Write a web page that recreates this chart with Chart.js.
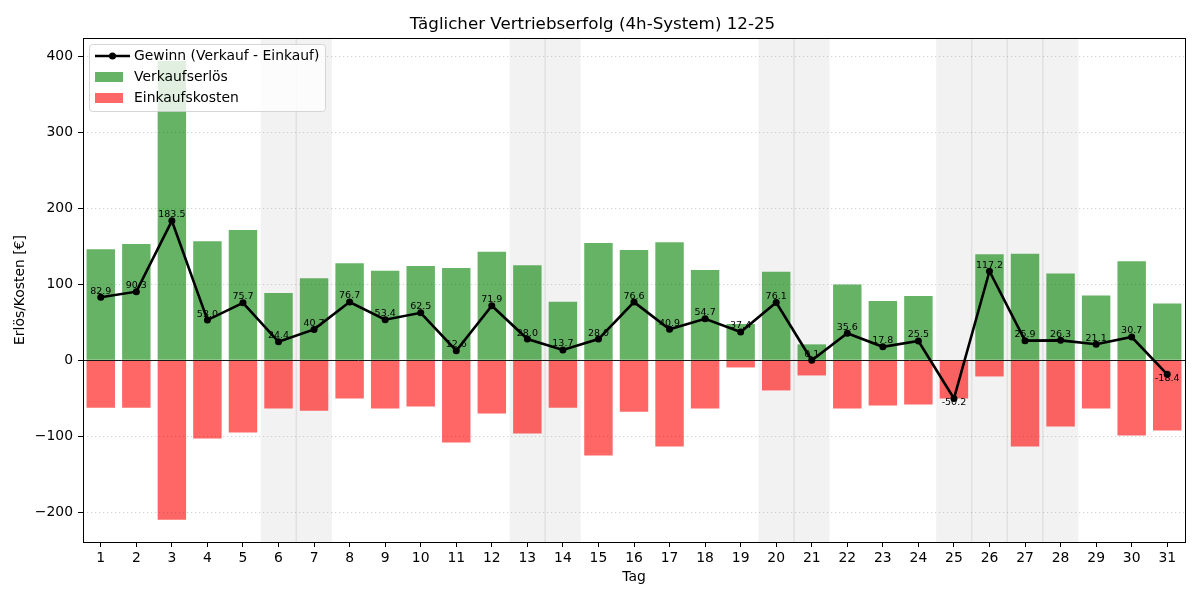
<!DOCTYPE html>
<html><head><meta charset="utf-8">
<script src="https://cdn.jsdelivr.net/npm/chart.js@4.4.1/dist/chart.umd.min.js"></script>
<style>html,body{margin:0;padding:0;background:#fff;} #wrap{width:1200px;height:600px;}</style>
</head><body><div id="wrap"><canvas id="c" width="1200" height="600"></canvas></div>
<script>
const days = ['1','2','3','4','5','6','7','8','9','10','11','12','13','14','15','16','17','18','19','20','21','22','23','24','25','26','27','28','29','30','31'];
const revenue = [146.3,153.2,393.8,156.8,171.6,88.7,108.1,127.8,117.7,124.1,121.6,142.8,125.2,77.1,154.2,145.3,155.2,119.0,47.8,116.7,21.0,99.9,78.2,84.6,0,139.4,140.2,114.3,85.4,130.5,74.9];
const costs = [-62.4,-62.4,-209.8,-102.8,-94.9,-63.3,-66.4,-50.1,-63.3,-60.6,-108.0,-69.9,-96.2,-62.4,-125.2,-67.7,-113.3,-63.3,-9.4,-39.6,-19.9,-63.3,-59.4,-58.1,-50.2,-21.2,-113.3,-87.0,-63.3,-98.8,-92.3];
const profit = [82.9,90.3,183.5,53.0,75.7,24.4,40.7,76.7,53.4,62.5,12.6,71.9,28.0,13.7,28.0,76.6,40.9,54.7,37.4,76.1,0.1,35.6,17.8,25.5,-50.2,117.2,25.9,26.3,21.1,30.7,-18.4];
const shadedDays = ['6','7','13','14','20','21','25','26','27','28'];
const yTicks = [-200,-100,0,100,200,300,400];
const titleText = 'Täglicher Vertriebserfolg (4h-System) 12-25';
const xTitle = 'Tag';
const yTitle = 'Erlös/Kosten [€]';
const seriesNames = ['Gewinn (Verkauf - Einkauf)','Verkaufserlös','Einkaufskosten'];

const FONT = 'DejaVu Sans';
const GREEN = 'rgba(0,128,0,0.6)';
const RED = 'rgba(255,0,0,0.6)';

const decor = {
  id: 'decor',
  beforeDatasetsDraw(chart) {
    const {ctx, chartArea: a, scales: {x}} = chart;
    const w = x.getPixelForValue(1) - x.getPixelForValue(0);
    ctx.save();
    ctx.fillStyle = 'rgba(128,128,128,0.1)';
    shadedDays.forEach(d => {
      const cx = x.getPixelForValue(days.indexOf(d));
      ctx.fillRect(cx - w/2, a.top, w, a.bottom - a.top);
    });
    ctx.strokeStyle = 'rgba(128,128,128,0.15)';
    ctx.lineWidth = 1.5;
    shadedDays.forEach(d => {
      const i = days.indexOf(d);
      if (i + 1 < days.length && shadedDays.includes(days[i+1])) {
        const xb = x.getPixelForValue(i) + w/2;
        ctx.beginPath(); ctx.moveTo(xb, a.top); ctx.lineTo(xb, a.bottom); ctx.stroke();
      }
    });
    ctx.restore();
  },
  beforeDatasetDraw(chart, args) {
    if (args.meta.type !== 'line') return;
    const {ctx, chartArea: a, scales: {y}} = chart;
    const y0 = Math.round(y.getPixelForValue(0)) + 0.5;
    ctx.save();
    ctx.strokeStyle = '#000'; ctx.lineWidth = 0.9;
    ctx.beginPath(); ctx.moveTo(a.left, y0); ctx.lineTo(a.right, y0); ctx.stroke();
    ctx.restore();
  },
  afterDatasetsDraw(chart) {
    const {ctx} = chart;
    const meta = chart.getDatasetMeta(0);
    ctx.save();
    ctx.font = '9.5px "' + FONT + '"';
    ctx.fillStyle = '#000';
    ctx.textAlign = 'center';
    ctx.textBaseline = 'middle';
    meta.data.forEach((pt, i) => {
      const v = profit[i];
      const dy = v >= 0 ? -6 : 4.5;
      ctx.fillText(v.toFixed(1), pt.x, pt.y + dy);
    });
    ctx.restore();
  },
  afterDraw(chart) {
    const {ctx, chartArea: a} = chart;
    ctx.save();
    ctx.strokeStyle = '#000'; ctx.lineWidth = 1;
    ctx.strokeRect(Math.round(a.left) + 0.5, Math.round(a.top) + 0.5, Math.round(a.right - a.left), Math.round(a.bottom - a.top));
    // legend
    const lx = 89.5, ly = 44.5, lw = 236, lh = 67, r = 3;
    ctx.beginPath();
    ctx.moveTo(lx + r, ly); ctx.lineTo(lx + lw - r, ly); ctx.arcTo(lx + lw, ly, lx + lw, ly + r, r);
    ctx.lineTo(lx + lw, ly + lh - r); ctx.arcTo(lx + lw, ly + lh, lx + lw - r, ly + lh, r);
    ctx.lineTo(lx + r, ly + lh); ctx.arcTo(lx, ly + lh, lx, ly + lh - r, r);
    ctx.lineTo(lx, ly + r); ctx.arcTo(lx, ly, lx + r, ly, r); ctx.closePath();
    ctx.fillStyle = 'rgba(255,255,255,0.8)'; ctx.fill();
    ctx.strokeStyle = 'rgba(204,204,204,0.8)'; ctx.lineWidth = 1; ctx.stroke();
    ctx.strokeStyle = '#000'; ctx.lineWidth = 2.5;
    ctx.beginPath(); ctx.moveTo(95, 56); ctx.lineTo(130, 56); ctx.stroke();
    ctx.fillStyle = '#000';
    ctx.beginPath(); ctx.arc(112.5, 56, 3.5, 0, Math.PI * 2); ctx.fill();
    ctx.fillStyle = GREEN; ctx.fillRect(95, 72, 28, 10);
    ctx.fillStyle = RED; ctx.fillRect(95, 93, 28, 10);
    ctx.fillStyle = '#000';
    ctx.font = '13.9px "' + FONT + '"';
    ctx.textAlign = 'left'; ctx.textBaseline = 'middle';
    ctx.fillText(seriesNames[0], 134, 56.5);
    ctx.fillText(seriesNames[1], 134, 77.5);
    ctx.fillText(seriesNames[2], 134, 98.5);
    ctx.restore();
  }
};

new Chart(document.getElementById('c'), {
  data: {
    labels: days,
    datasets: [
      {type: 'line', label: seriesNames[0], data: profit, borderColor: '#000', backgroundColor: '#000',
       borderWidth: 2.6, pointRadius: 3.5, pointBackgroundColor: '#000', pointBorderWidth: 0, order: 0, tension: 0},
      {type: 'bar', label: seriesNames[1], data: revenue, backgroundColor: GREEN, barPercentage: 0.8, categoryPercentage: 1.0, order: 1},
      {type: 'bar', label: seriesNames[2], data: costs, backgroundColor: RED, barPercentage: 0.8, categoryPercentage: 1.0, order: 2}
    ]
  },
  options: {
    responsive: false,
    animation: false,
    devicePixelRatio: 1,
    layout: {padding: {left: 0, right: 15, top: 0, bottom: 0}},
    plugins: {
      legend: {display: false},
      tooltip: {enabled: false},
      title: {display: true, text: titleText, color: '#000', font: {family: FONT, size: 16.7, weight: 'normal'}, padding: {top: 15, bottom: 3}}
    },
    scales: {
      x: {
        stacked: true,
        offset: true,
        grid: {display: true, drawOnChartArea: false, offset: false, drawTicks: true, tickLength: 5, tickColor: '#000', tickWidth: 1},
        border: {display: false},
        ticks: {color: '#000', font: {family: FONT, size: 13.9}, padding: 3, maxRotation: 0, autoSkip: false},
        title: {display: true, text: xTitle, color: '#000', font: {family: FONT, size: 13.9}, padding: {top: 0, bottom: 14}},
        afterFit(s) { s.height = 58; }
      },
      y: {
        stacked: false,
        min: -239, max: 424,
        afterBuildTicks(s) { s.ticks = yTicks.map(v => ({value: v})); },
        grid: {color: 'rgba(176,176,176,0.6)', lineWidth: 1, drawTicks: true, tickLength: 5, tickColor: '#000', tickWidth: 1, tickBorderDash: []},
        border: {display: false, dash: [1.2, 2.8]},
        ticks: {color: '#000', font: {family: FONT, size: 13.9}, padding: 5, callback: v => String(v).replace('-', '\u2212')},
        title: {display: true, text: yTitle, color: '#000', font: {family: FONT, size: 13.9}, padding: {top: 12, bottom: 0}},
        afterFit(s) { s.width = 83; }
      }
    }
  },
  plugins: [decor]
});
</script>
</body></html>
